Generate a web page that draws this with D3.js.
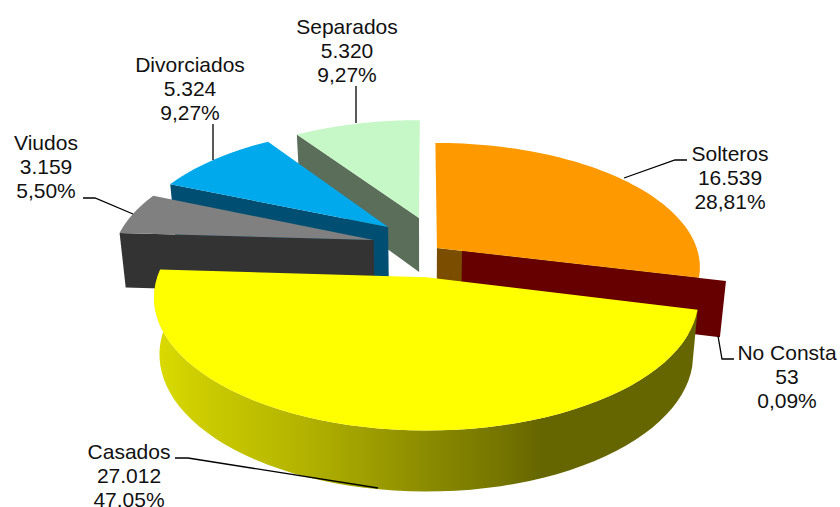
<!DOCTYPE html>
<html><head><meta charset="utf-8">
<script src="https://cdnjs.cloudflare.com/ajax/libs/d3/7.8.5/d3.min.js"></script>
<style>html,body{margin:0;padding:0;background:#fff}svg{display:block}</style>
</head><body><svg id="c" width="840" height="507"></svg>
<script>
const categories = ["Solteros","No Consta","Casados","Viudos","Divorciados","Separados"];
const values = [16539,53,27012,3159,5324,5320];
const valueLabels = ["16.539","53","27.012","3.159","5.324","5.320"];
const percentLabels = ["28,81%","0,09%","47.05%","5,50%","9,27%","9,27%"];

// layout and style
const faceColors = ["#ff9900","#660000","#ffff00","#808080","#00a8ec","#c6f7c6"];
const wallColors = ["#7a4d00","#660000","#808000","#333333","#004f73","#5a6e5a"];
const explode = [[.046,.033],[.142,.008],[.005,-.2],[-.2,.1],[-.146,.211],[-.024,.29]];
const labelPos = [[730,153],[787,352],[129,451],[46,142],[190,64],[347,26]];
const leaders = [
  [[624,178],[675,160],[687,160]],
  [[718,336],[722,359],[734,359]],
  [[378,488],[188,458],[175,458]],
  [[133,214],[95,198],[83,198]],
  [[213,160],[213,124]],
  [[356,123],[356,86]]
];
const wallStops = [[160,"#dada00"],[200,"#cccc00"],[300,"#b4b400"],[380,"#9a9a00"],[430,"#8a8a00"],[500,"#757500"],[540,"#666600"],[700,"#666600"]];
const W = {cx:425, cy:252, rx:261, ry:122, p:.15, drop:103.7, dropC:.88, taper:.98};

function project(X,Y,low){
  const w = 1 + W.p*Y;
  const x = W.rx*X/w, y = -W.ry*Y/w;
  return low ? [W.cx + x*W.taper, W.cy + y + W.drop/(w+W.dropC)]
             : [W.cx + x, W.cy + y];
}
const pts = d3.pie().sort(null).startAngle(0).endAngle(2*Math.PI)(values);
const rim = (i,a,low)=>{ const [ox,oy]=explode[i];
  return project(ox+Math.sin(a), oy+Math.cos(a), low); };
const apex = (i,low)=>project(explode[i][0],explode[i][1],low);
const arcPts = (i,a0,a1,low)=>d3.range(0,61).map(k=>rim(i,a0+(a1-a0)*k/60,low));
const line = d3.line();
const closed = p=>line(p)+"Z";

const svg = d3.select("#c");
const defs = svg.append("defs");
const x0 = wallStops[0][0], x1 = wallStops[wallStops.length-1][0];
const g = defs.append("linearGradient").attr("id","wallGrad")
  .attr("gradientUnits","userSpaceOnUse").attr("x1",x0).attr("x2",x1).attr("y1",0).attr("y2",0);
wallStops.forEach(([x,c])=>g.append("stop").attr("offset",(x-x0)/(x1-x0)).attr("stop-color",c));

const chart = svg.append("g");
function radial(i,a){ // side wall along one radius
  chart.append("path").attr("fill",wallColors[i])
    .attr("d",closed([apex(i,false),rim(i,a,false),rim(i,a,true),apex(i,true)]));
}
function face(i){
  const d=pts[i];
  chart.append("path").attr("fill",faceColors[i])
    .attr("d",closed([apex(i,false),...arcPts(i,d.startAngle,d.endAngle,false)]));
}
// painter's order, back to front
[5,4,3].forEach(i=>{ radial(i,pts[i].startAngle); face(i); });
radial(0,pts[0].endAngle); face(0);
radial(1,pts[1].startAngle);
// Casados outer wall
{
  const d=pts[2];
  chart.append("path").attr("fill","url(#wallGrad)")
    .attr("d",closed([...arcPts(2,d.startAngle,d.endAngle,false),
                      ...arcPts(2,d.startAngle,d.endAngle,true).reverse()]));
  face(2);
}
// leaders
svg.append("g").selectAll("path").data(leaders).join("path")
  .attr("d",d=>line(d)).attr("fill","none").attr("stroke","#000").attr("stroke-width",1.3);
// labels
const lab = svg.append("g").attr("font-family","'Liberation Sans',Arial,sans-serif")
  .attr("font-size",21).attr("fill","#111").attr("text-anchor","middle");
categories.forEach((c,i)=>{
  [c,valueLabels[i],percentLabels[i]].forEach((t,k)=>{
    lab.append("text").attr("x",labelPos[i][0]).attr("y",labelPos[i][1]+k*24.4)
      .attr("dy","0.36em").text(t);
  });
});
</script></body></html>
